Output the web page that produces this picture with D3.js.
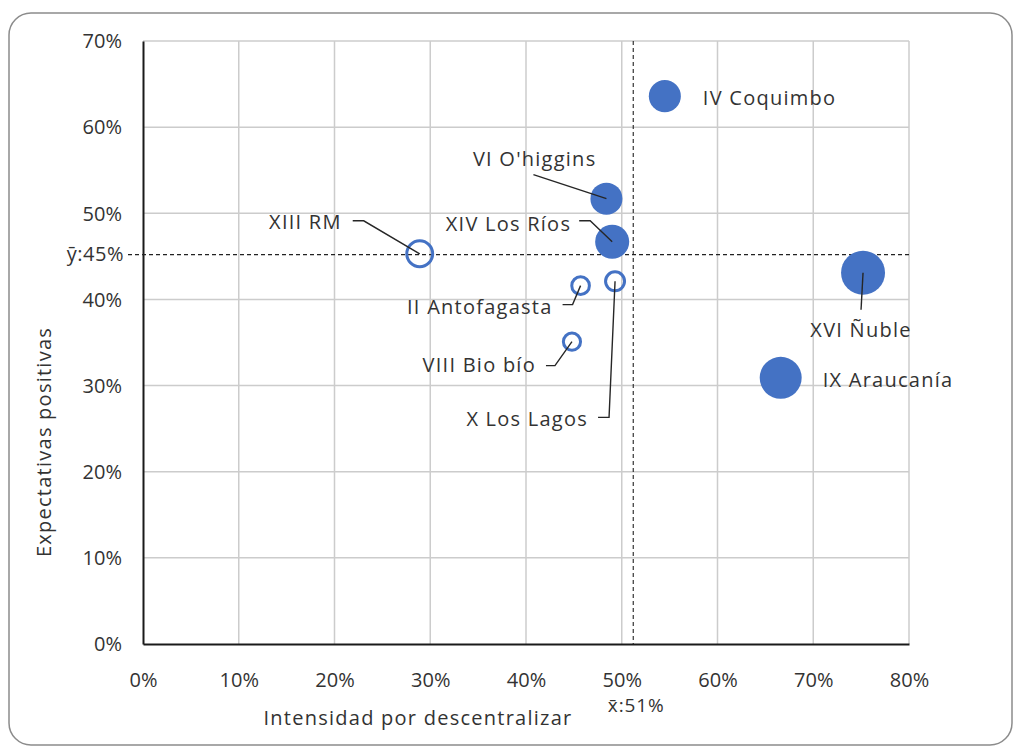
<!DOCTYPE html>
<html>
<head>
<meta charset="utf-8">
<script src="https://cdn.jsdelivr.net/npm/d3@7"></script>
<style>
  html, body { margin: 0; padding: 0; background: #fff; }
  svg { display: block; }
  text { font-family: "Open Sans", sans-serif; fill: #333; }
  .lbl { letter-spacing: 1.25px; }
</style>
</head>
<body>
<svg id="chart" width="1014" height="747"></svg>
<script>
// ---- Data ----
const regiones = ["IV Coquimbo", "VI O'higgins", "XIV Los Ríos", "XIII RM", "II Antofagasta",
                  "VIII Bio bío", "X Los Lagos", "XVI Ñuble", "IX Araucanía"];
const intensidad = [0.545, 0.484, 0.490, 0.289, 0.457, 0.448, 0.493, 0.752, 0.666];   // x
const expectativas = [0.636, 0.517, 0.467, 0.453, 0.416, 0.351, 0.421, 0.431, 0.309]; // y
const tamano = [53, 53, 60, 43, 22, 21, 25, 100, 91];                                 // bubble size
const relleno = [true, true, true, false, false, false, false, true, true];          // filled bubble
const xTicks = [0, 0.1, 0.2, 0.3, 0.4, 0.5, 0.6, 0.7, 0.8];
const yTicks = [0, 0.1, 0.2, 0.3, 0.4, 0.5, 0.6, 0.7];
const mediaX = 0.512, mediaY = 0.452;
const mediaXLabel = "x\u0304:51%", mediaYLabel = "\u0233:45%";
const xTitle = "Intensidad por descentralizar";
const yTitle = "Expectativas positivas";

// ---- Label layout (pixel offsets from bubble centre) ----
const labelLayout = [
  { anchor: "start", dx: 38,  dy: 9,   leader: null },
  { anchor: "end",   dx: -10, dy: -33, leader: [[-73, -24], [0, 0]] },
  { anchor: "end",   dx: -41, dy: -11, leader: [[-33, -21], [-22, -21], [0, 0]] },
  { anchor: "end",   dx: -78, dy: -25, leader: [[-67, -33], [-56, -33], [0, 0]] },
  { anchor: "end",   dx: -28, dy: 28,  leader: [[-18, 19], [-8, 19], [0, 0]] },
  { anchor: "end",   dx: -36, dy: 30,  leader: [[-26, 24], [-17, 24], [0, 0]] },
  { anchor: "end",   dx: -27, dy: 145, leader: [[-17, 136], [-6, 136], [0, 0]] },
  { anchor: "middle",dx: -2,  dy: 64,  leader: [[-2, 37], [0, 0]] },
  { anchor: "start", dx: 42,  dy: 9,   leader: null }
];

const svg = d3.select("#chart");
const W = 1014, H = 747;
const m = { left: 143, right: 105, top: 41, bottom: 103 };
const FS = 20;

// frame
svg.append("rect").attr("x", 9).attr("y", 13).attr("width", 1003).attr("height", 732)
  .attr("rx", 22).attr("ry", 22).attr("fill", "#fff").attr("stroke", "#8c8c8c").attr("stroke-width", 1.5);

const x = d3.scaleLinear().domain([0, 0.8]).range([m.left, W - m.right]);
const y = d3.scaleLinear().domain([0, 0.7]).range([H - m.bottom, m.top]);
const r = d3.scaleSqrt().domain([0, 100]).range([0, 22]);
const pct = d3.format(".0%");

// gridlines
const grid = svg.append("g");
grid.selectAll(".vg").data(xTicks.slice(1)).join("line")
  .attr("x1", d => x(d)).attr("x2", d => x(d)).attr("y1", y(0)).attr("y2", y(0.7))
  .attr("stroke", "#cccccc").attr("stroke-width", 1.5);
grid.selectAll(".hg").data(yTicks.slice(1)).join("line")
  .attr("x1", x(0)).attr("x2", x(0.8)).attr("y1", d => y(d)).attr("y2", d => y(d))
  .attr("stroke", "#cccccc").attr("stroke-width", 1.5);

// axes
const xAxis = svg.append("g").attr("transform", `translate(0,${y(0)})`)
  .call(d3.axisBottom(x).tickValues(xTicks).tickFormat(pct).tickSize(0).tickPadding(29));
const yAxis = svg.append("g").attr("transform", `translate(${x(0)},0)`)
  .call(d3.axisLeft(y).tickValues(yTicks).tickFormat(pct).tickSize(0).tickPadding(21));
[xAxis, yAxis].forEach(a => {
  a.select(".domain").attr("stroke", "#1a1a1a").attr("stroke-width", 2);
  a.selectAll("text").attr("font-size", FS).attr("font-family", "Open Sans").attr("fill", "#333");
});
yAxis.selectAll("text").attr("dy", "0.34em");
xAxis.selectAll("text").attr("dy", "0.68em");

// mean lines
svg.append("line").attr("x1", 128).attr("x2", x(0.8)).attr("y1", y(mediaY)).attr("y2", y(mediaY))
  .attr("stroke", "#222").attr("stroke-width", 1.1).attr("stroke-dasharray", "4,3");
svg.append("line").attr("x1", x(mediaX)).attr("x2", x(mediaX)).attr("y1", y(0.7)).attr("y2", y(0))
  .attr("stroke", "#222").attr("stroke-width", 1.1).attr("stroke-dasharray", "4,3");
svg.append("text").attr("x", 124).attr("y", y(mediaY)).attr("dy", "0.34em")
  .attr("text-anchor", "end").attr("font-size", FS).attr("letter-spacing", "0.5px").text(mediaYLabel);
svg.append("text").attr("x", x(mediaX) + 3).attr("y", 712)
  .attr("text-anchor", "middle").attr("font-size", 19).attr("letter-spacing", "0.9px").text(mediaXLabel);

// axis titles
svg.append("text").attr("class", "lbl").attr("x", 418).attr("y", 725).attr("text-anchor", "middle")
  .attr("font-size", FS).text(xTitle);
svg.append("text").attr("class", "lbl").attr("transform", "translate(51,442) rotate(-90)").attr("text-anchor", "middle")
  .attr("font-size", FS).text(yTitle);

// bubbles
const pts = regiones.map((n, i) => ({
  name: n, cx: x(intensidad[i]), cy: y(expectativas[i]), r: r(tamano[i]), fill: relleno[i], lay: labelLayout[i]
}));
const blue = "#4472C4";
svg.append("g").selectAll("circle").data(pts).join("circle")
  .attr("cx", d => d.cx).attr("cy", d => d.cy)
  .attr("r", d => d.fill ? d.r : d.r - 1.5)
  .attr("fill", d => d.fill ? blue : "none")
  .attr("stroke", blue).attr("stroke-width", d => d.fill ? 0 : 3);

// leaders
const line = d3.line();
svg.append("g").selectAll("path").data(pts.filter(d => d.lay.leader)).join("path")
  .attr("d", d => line(d.lay.leader.map(p => [d.cx + p[0], d.cy + p[1]])))
  .attr("fill", "none").attr("stroke", "#262626").attr("stroke-width", 1.4);

// labels
svg.append("g").selectAll("text").data(pts).join("text")
  .attr("class", "lbl")
  .attr("x", d => d.cx + d.lay.dx).attr("y", d => d.cy + d.lay.dy)
  .attr("text-anchor", d => d.lay.anchor).attr("font-size", FS).text(d => d.name);
</script>
</body>
</html>
